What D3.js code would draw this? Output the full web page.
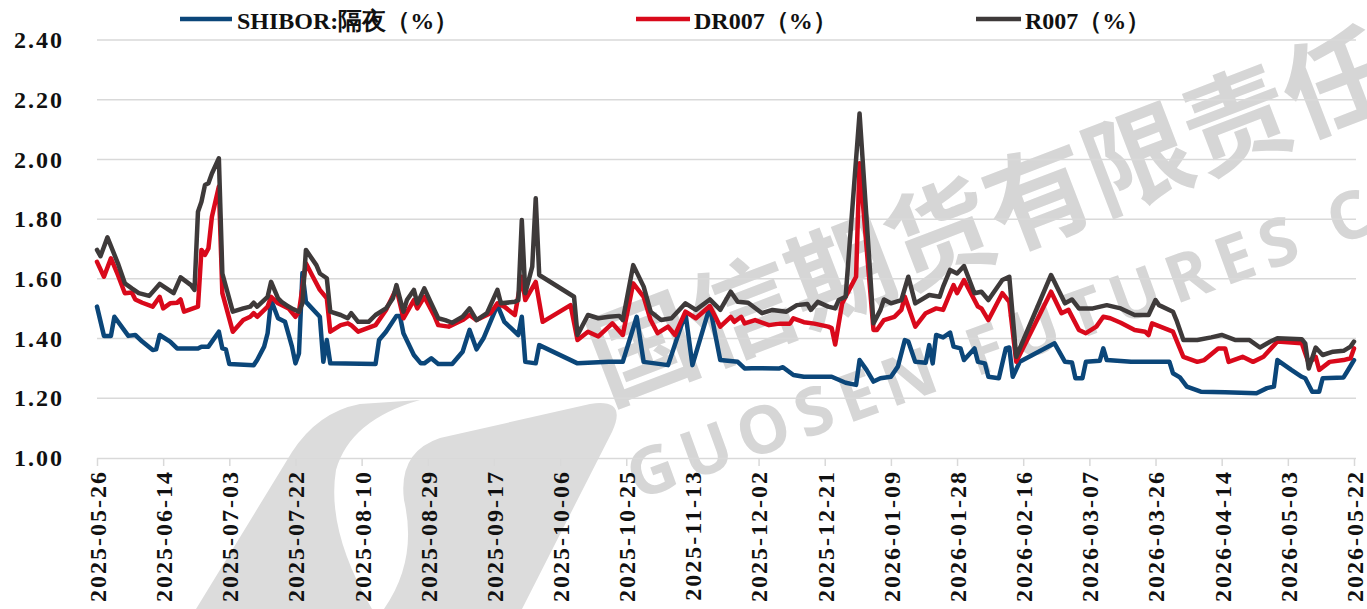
<!DOCTYPE html>
<html><head><meta charset="utf-8">
<script src="https://cdn.jsdelivr.net/npm/d3@7"></script>
<style>
html,body{margin:0;padding:0;background:#fff;}
svg{display:block;}
.serif{font-family:"Liberation Serif","DejaVu Serif",serif;font-weight:bold;}
</style></head>
<body>
<svg id="chart" width="1367" height="609"></svg>
<script>
const seriesNames = ["SHIBOR:隔夜（%）", "DR007（%）", "R007（%）"];
const seriesColors = ["#0b4679", "#d9091b", "#3e3a3a"];
const yTicks = [1.0, 1.2, 1.4, 1.6, 1.8, 2.0, 2.2, 2.4];
const xTickLabels = ["2025-05-26","2025-06-14","2025-07-03","2025-07-22","2025-08-10","2025-08-29","2025-09-17","2025-10-06","2025-10-25","2025-11-13","2025-12-02","2025-12-21","2026-01-09","2026-01-28","2026-02-16","2026-03-07","2026-03-26","2026-04-14","2026-05-03","2026-05-22"];

const shibor = [["2025-05-26",1.507],["2025-05-28",1.409],["2025-05-30",1.409],["2025-05-31",1.473],["2025-06-04",1.409],["2025-06-06",1.412],["2025-06-08",1.39],["2025-06-11",1.362],["2025-06-12",1.364],["2025-06-13",1.412],["2025-06-16",1.39],["2025-06-18",1.367],["2025-06-24",1.367],["2025-06-25",1.373],["2025-06-27",1.373],["2025-06-30",1.423],["2025-07-01",1.367],["2025-07-02",1.364],["2025-07-03",1.315],["2025-07-10",1.311],["2025-07-11",1.328],["2025-07-13",1.373],["2025-07-14",1.418],["2025-07-15",1.529],["2025-07-17",1.468],["2025-07-19",1.456],["2025-07-21",1.373],["2025-07-22",1.317],["2025-07-23",1.35],["2025-07-24",1.62],["2025-07-25",1.523],["2025-07-29",1.473],["2025-07-30",1.322],["2025-07-31",1.395],["2025-08-01",1.317],["2025-08-14",1.315],["2025-08-15",1.395],["2025-08-17",1.423],["2025-08-20",1.476],["2025-08-21",1.476],["2025-08-22",1.418],["2025-08-25",1.345],["2025-08-27",1.317],["2025-08-28",1.317],["2025-08-30",1.334],["2025-09-01",1.315],["2025-09-05",1.315],["2025-09-08",1.356],["2025-09-10",1.429],["2025-09-12",1.364],["2025-09-14",1.401],["2025-09-18",1.512],["2025-09-20",1.456],["2025-09-24",1.412],["2025-09-25",1.473],["2025-09-26",1.322],["2025-09-29",1.317],["2025-09-30",1.378],["2025-10-11",1.317],["2025-10-20",1.322],["2025-10-24",1.322],["2025-10-28",1.473],["2025-10-30",1.322],["2025-11-06",1.311],["2025-11-11",1.485],["2025-11-13",1.311],["2025-11-18",1.507],["2025-11-21",1.328],["2025-11-26",1.322],["2025-11-28",1.3],["2025-11-30",1.301],["2025-12-08",1.3],["2025-12-09",1.304],["2025-12-12",1.278],["2025-12-15",1.272],["2025-12-23",1.272],["2025-12-27",1.252],["2025-12-30",1.245],["2025-12-31",1.328],["2026-01-02",1.295],["2026-01-04",1.256],["2026-01-06",1.267],["2026-01-09",1.272],["2026-01-11",1.306],["2026-01-13",1.395],["2026-01-14",1.39],["2026-01-16",1.322],["2026-01-19",1.319],["2026-01-20",1.378],["2026-01-21",1.317],["2026-01-22",1.412],["2026-01-24",1.404],["2026-01-26",1.42],["2026-01-27",1.373],["2026-01-29",1.367],["2026-01-30",1.328],["2026-02-02",1.367],["2026-02-03",1.322],["2026-02-05",1.317],["2026-02-06",1.272],["2026-02-09",1.267],["2026-02-11",1.367],["2026-02-12",1.37],["2026-02-13",1.272],["2026-02-15",1.322],["2026-02-25",1.384],["2026-02-28",1.322],["2026-03-02",1.32],["2026-03-03",1.267],["2026-03-05",1.267],["2026-03-06",1.322],["2026-03-10",1.326],["2026-03-11",1.367],["2026-03-12",1.328],["2026-03-19",1.322],["2026-03-30",1.322],["2026-03-31",1.284],["2026-04-02",1.27],["2026-04-04",1.239],["2026-04-08",1.222],["2026-04-15",1.22],["2026-04-24",1.217],["2026-04-27",1.234],["2026-04-29",1.239],["2026-04-30",1.328],["2026-05-04",1.295],["2026-05-07",1.272],["2026-05-08",1.267],["2026-05-10",1.222],["2026-05-12",1.222],["2026-05-13",1.267],["2026-05-19",1.27],["2026-05-20",1.289],["2026-05-22",1.328]];

const dr007 = [["2025-05-26",1.657],["2025-05-28",1.607],["2025-05-30",1.669],["2025-06-01",1.613],["2025-06-03",1.552],["2025-06-05",1.554],["2025-06-06",1.531],["2025-06-08",1.52],["2025-06-11",1.507],["2025-06-13",1.54],["2025-06-14",1.501],["2025-06-16",1.518],["2025-06-18",1.52],["2025-06-19",1.531],["2025-06-20",1.49],["2025-06-24",1.507],["2025-06-25",1.697],["2025-06-26",1.68],["2025-06-27",1.702],["2025-06-28",1.808],["2025-06-30",1.909],["2025-07-01",1.552],["2025-07-04",1.423],["2025-07-07",1.462],["2025-07-09",1.473],["2025-07-10",1.485],["2025-07-11",1.473],["2025-07-14",1.507],["2025-07-15",1.54],["2025-07-17",1.518],["2025-07-20",1.501],["2025-07-22",1.473],["2025-07-23",1.49],["2025-07-25",1.652],["2025-07-27",1.607],["2025-07-29",1.563],["2025-07-31",1.535],["2025-08-01",1.423],["2025-08-04",1.445],["2025-08-06",1.451],["2025-08-07",1.445],["2025-08-09",1.423],["2025-08-14",1.445],["2025-08-17",1.496],["2025-08-20",1.568],["2025-08-22",1.468],["2025-08-25",1.529],["2025-08-26",1.501],["2025-08-28",1.54],["2025-08-31",1.473],["2025-09-01",1.445],["2025-09-04",1.44],["2025-09-08",1.462],["2025-09-10",1.479],["2025-09-12",1.462],["2025-09-16",1.485],["2025-09-18",1.518],["2025-09-20",1.507],["2025-09-23",1.479],["2025-09-25",1.607],["2025-09-26",1.529],["2025-09-29",1.59],["2025-10-01",1.456],["2025-10-09",1.512],["2025-10-11",1.395],["2025-10-14",1.423],["2025-10-17",1.407],["2025-10-21",1.451],["2025-10-24",1.412],["2025-10-27",1.585],["2025-10-30",1.54],["2025-11-01",1.462],["2025-11-03",1.418],["2025-11-06",1.44],["2025-11-08",1.412],["2025-11-11",1.49],["2025-11-14",1.468],["2025-11-18",1.509],["2025-11-21",1.44],["2025-11-24",1.473],["2025-11-25",1.456],["2025-11-27",1.473],["2025-11-28",1.451],["2025-12-01",1.462],["2025-12-05",1.445],["2025-12-08",1.45],["2025-12-11",1.45],["2025-12-12",1.468],["2025-12-15",1.455],["2025-12-18",1.45],["2025-12-22",1.44],["2025-12-23",1.435],["2025-12-24",1.38],["2025-12-26",1.518],["2025-12-28",1.563],["2025-12-30",1.607],["2025-12-31",1.987],["2026-01-04",1.429],["2026-01-05",1.429],["2026-01-07",1.462],["2026-01-10",1.473],["2026-01-12",1.496],["2026-01-13",1.54],["2026-01-16",1.44],["2026-01-19",1.485],["2026-01-22",1.501],["2026-01-24",1.496],["2026-01-26",1.552],["2026-01-27",1.579],["2026-01-28",1.552],["2026-01-30",1.596],["2026-02-03",1.507],["2026-02-04",1.501],["2026-02-06",1.462],["2026-02-10",1.552],["2026-02-12",1.523],["2026-02-14",1.322],["2026-02-24",1.557],["2026-02-27",1.485],["2026-03-01",1.496],["2026-03-04",1.429],["2026-03-06",1.418],["2026-03-09",1.44],["2026-03-11",1.473],["2026-03-13",1.468],["2026-03-16",1.453],["2026-03-20",1.429],["2026-03-23",1.423],["2026-03-24",1.412],["2026-03-25",1.451],["2026-03-31",1.423],["2026-04-01",1.395],["2026-04-03",1.339],["2026-04-07",1.322],["2026-04-09",1.328],["2026-04-13",1.367],["2026-04-15",1.367],["2026-04-16",1.322],["2026-04-20",1.339],["2026-04-23",1.322],["2026-04-26",1.339],["2026-04-30",1.39],["2026-05-07",1.384],["2026-05-09",1.317],["2026-05-11",1.339],["2026-05-12",1.295],["2026-05-15",1.322],["2026-05-19",1.328],["2026-05-21",1.334],["2026-05-22",1.367]];

const r007 = [["2025-05-26",1.697],["2025-05-27",1.676],["2025-05-29",1.739],["2025-06-01",1.652],["2025-06-03",1.585],["2025-06-05",1.568],["2025-06-07",1.552],["2025-06-10",1.543],["2025-06-13",1.583],["2025-06-17",1.552],["2025-06-19",1.605],["2025-06-22",1.579],["2025-06-23",1.563],["2025-06-24",1.825],["2025-06-25",1.858],["2025-06-26",1.914],["2025-06-27",1.92],["2025-06-28",1.953],["2025-06-30",2.004],["2025-07-01",1.618],["2025-07-04",1.49],["2025-07-07",1.501],["2025-07-09",1.507],["2025-07-10",1.52],["2025-07-11",1.507],["2025-07-14",1.54],["2025-07-15",1.59],["2025-07-17",1.535],["2025-07-18",1.523],["2025-07-20",1.507],["2025-07-21",1.501],["2025-07-23",1.49],["2025-07-24",1.518],["2025-07-25",1.697],["2025-07-28",1.646],["2025-07-29",1.618],["2025-07-31",1.602],["2025-08-01",1.49],["2025-08-04",1.479],["2025-08-06",1.468],["2025-08-07",1.485],["2025-08-09",1.456],["2025-08-12",1.456],["2025-08-14",1.479],["2025-08-17",1.501],["2025-08-19",1.535],["2025-08-20",1.579],["2025-08-22",1.49],["2025-08-23",1.529],["2025-08-25",1.563],["2025-08-26",1.518],["2025-08-28",1.568],["2025-08-30",1.518],["2025-09-01",1.468],["2025-09-03",1.462],["2025-09-05",1.453],["2025-09-08",1.473],["2025-09-10",1.501],["2025-09-12",1.462],["2025-09-15",1.485],["2025-09-18",1.563],["2025-09-19",1.518],["2025-09-23",1.523],["2025-09-24",1.529],["2025-09-25",1.797],["2025-09-26",1.552],["2025-09-28",1.641],["2025-09-29",1.87],["2025-09-30",1.613],["2025-10-10",1.54],["2025-10-11",1.412],["2025-10-14",1.479],["2025-10-17",1.468],["2025-10-20",1.473],["2025-10-23",1.476],["2025-10-24",1.462],["2025-10-27",1.646],["2025-10-30",1.574],["2025-11-01",1.49],["2025-11-04",1.462],["2025-11-07",1.468],["2025-11-11",1.518],["2025-11-14",1.496],["2025-11-18",1.531],["2025-11-21",1.496],["2025-11-24",1.557],["2025-11-26",1.523],["2025-11-29",1.52],["2025-12-03",1.485],["2025-12-06",1.496],["2025-12-10",1.49],["2025-12-13",1.512],["2025-12-16",1.516],["2025-12-17",1.496],["2025-12-19",1.523],["2025-12-22",1.507],["2025-12-24",1.501],["2025-12-25",1.529],["2025-12-27",1.54],["2025-12-31",2.154],["2026-01-04",1.451],["2026-01-06",1.496],["2026-01-07",1.531],["2026-01-09",1.518],["2026-01-12",1.529],["2026-01-14",1.607],["2026-01-16",1.518],["2026-01-20",1.546],["2026-01-23",1.54],["2026-01-24",1.574],["2026-01-26",1.63],["2026-01-28",1.618],["2026-01-30",1.643],["2026-02-02",1.552],["2026-02-04",1.557],["2026-02-06",1.529],["2026-02-10",1.596],["2026-02-12",1.607],["2026-02-14",1.339],["2026-02-24",1.613],["2026-02-28",1.518],["2026-03-02",1.531],["2026-03-04",1.501],["2026-03-08",1.501],["2026-03-12",1.512],["2026-03-16",1.501],["2026-03-20",1.479],["2026-03-24",1.479],["2026-03-26",1.529],["2026-03-27",1.512],["2026-03-31",1.49],["2026-04-01",1.462],["2026-04-03",1.395],["2026-04-07",1.395],["2026-04-11",1.404],["2026-04-14",1.412],["2026-04-18",1.395],["2026-04-22",1.395],["2026-04-25",1.37],["2026-04-28",1.39],["2026-04-30",1.401],["2026-05-07",1.398],["2026-05-08",1.384],["2026-05-09",1.3],["2026-05-11",1.37],["2026-05-13",1.345],["2026-05-16",1.356],["2026-05-19",1.359],["2026-05-21",1.373],["2026-05-22",1.39]];

const parse = d3.timeParse("%Y-%m-%d");
const allSeries = [shibor, dr007, r007].map((arr, i) => ({
  name: seriesNames[i], color: seriesColors[i],
  values: arr.map(d => ({date: parse(d[0]), value: d[1]}))
}));

const svg = d3.select("#chart");
const mLeft = 97, mRight = 1354, mTop = 40, mBottom = 458;
const x = d3.scaleTime().domain([parse(xTickLabels[0]), parse(xTickLabels[xTickLabels.length-1])]).range([mLeft, mRight]);
const y = d3.scaleLinear().domain([1.0, 2.4]).range([mBottom, mTop]);

// watermark
const wm = svg.append("g").attr("class", "watermark");
wm.append("path")
  .attr("d", "M196,609 L292,452 Q318,412 360,404 L420,400 Q350,420 336,470 Q326,530 372,609 Z M384,609 Q418,560 404,500 Q398,452 440,438 L590,404 Q628,398 612,432 L522,609 Z")
  .attr("fill", "#dcdcdc");
wm.append("text")
  .attr("transform", "translate(591,361) rotate(-21)")
  .style("font-family", "'Noto Sans CJK SC', sans-serif")
  .style("font-weight", "bold").style("font-size", "106px")
  .attr("dominant-baseline", "central")
  .attr("fill", "#d6d6d6")
  .text("国信期货有限责任公司");
wm.append("text")
  .attr("transform", "translate(628,476) rotate(-20)")
  .style("font-family", "'Open Sans', sans-serif")
  .style("font-weight", "bold").style("font-size", "66px")
  .style("letter-spacing", "9.5px")
  .attr("dominant-baseline", "central")
  .attr("fill", "#d6d6d6")
  .text("GUOSEN FUTURES CO");

// gridlines
svg.append("g").selectAll("line").data(yTicks.slice(1)).join("line")
  .attr("x1", mLeft).attr("x2", mRight + 2)
  .attr("y1", d => y(d)).attr("y2", d => y(d))
  .attr("stroke", "#d9d9d9").attr("stroke-width", 1.5);

// y axis labels
const yAxis = svg.append("g").attr("transform", `translate(${mLeft},0)`)
  .call(d3.axisLeft(y).tickValues(yTicks).tickFormat(d3.format(".2f")).tickSize(0).tickPadding(33));
yAxis.attr("font-family", null);
yAxis.select(".domain").remove();
yAxis.selectAll("text")
  .attr("class", "serif")
  .style("font-size", "24px").style("letter-spacing", "2px")
  .attr("fill", "#111");

// x axis
const xAxis = svg.append("g").attr("transform", `translate(0,${mBottom})`)
  .call(d3.axisBottom(x).tickValues(xTickLabels.map(parse)).tickFormat(d3.timeFormat("%Y-%m-%d")).tickSize(8).tickPadding(10));
xAxis.attr("font-family", null);
xAxis.select(".domain").attr("stroke", "#d9d9d9").attr("stroke-width", 1.5).attr("d", `M${mLeft},0.5H${mRight + 2}`);
xAxis.selectAll(".tick line").attr("stroke", "#d9d9d9").attr("stroke-width", 1.5);
xAxis.selectAll("text")
  .attr("class", "serif")
  .style("font-size", "24px").style("letter-spacing", "2px")
  .attr("fill", "#111")
  .attr("transform", "rotate(-90)")
  .attr("text-anchor", "end")
  .attr("dy", "0.35em").attr("x", -12).attr("y", 0);

// lines
const line = d3.line().x(d => x(d.date)).y(d => y(d.value)).curve(d3.curveLinear);
svg.append("g").selectAll("path").data(allSeries).join("path")
  .attr("d", d => line(d.values))
  .attr("fill", "none")
  .attr("stroke", d => d.color)
  .attr("stroke-width", 4.5)
  .attr("stroke-linejoin", "round").attr("stroke-linecap", "round");

// legend
const legendPos = [{lx: 180, lw: 52, tx: 237}, {lx: 636, lw: 54, tx: 694}, {lx: 976, lw: 45, tx: 1025}];
const lg = svg.append("g");
allSeries.forEach((s, i) => {
  const p = legendPos[i];
  lg.append("line").attr("x1", p.lx).attr("x2", p.lx + p.lw).attr("y1", 19).attr("y2", 19)
    .attr("stroke", s.color).attr("stroke-width", 4.5);
  lg.append("text").attr("x", p.tx).attr("y", 29)
    .attr("class", "serif")
    .style("font-size", "24px").attr("fill", "#111")
    .text(s.name);
});
</script>
</body></html>
